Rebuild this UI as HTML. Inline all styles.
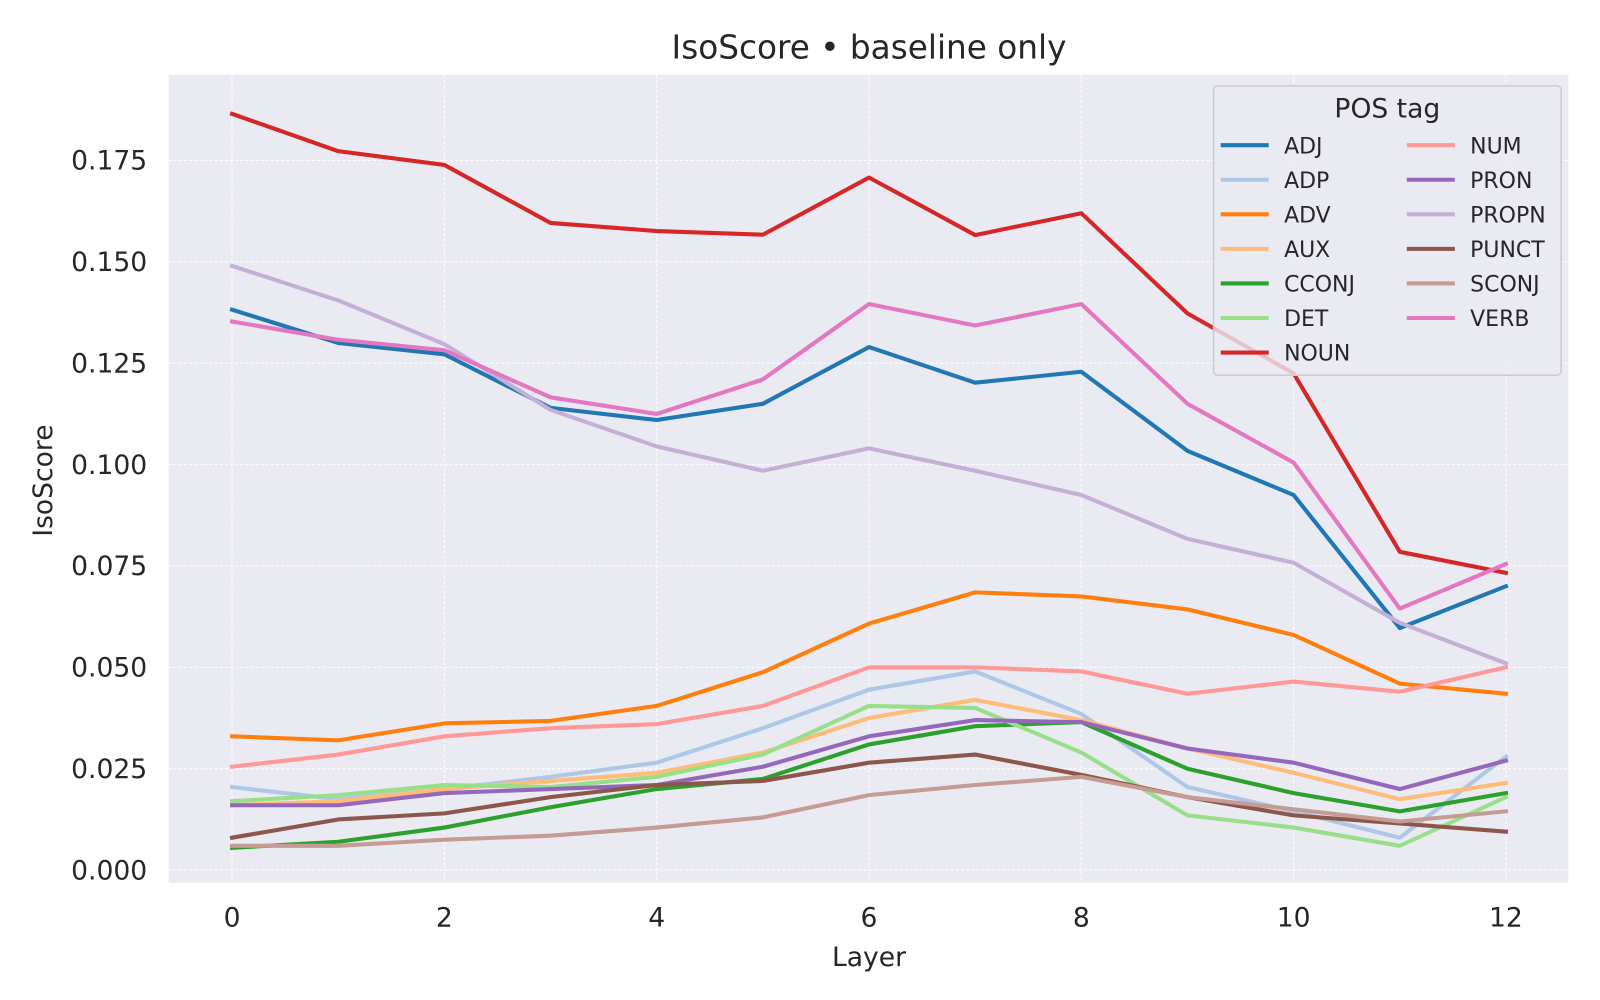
<!DOCTYPE html>
<html><head><meta charset="utf-8"><style>
html,body{margin:0;padding:0;background:#fff;}
svg{display:block;font-family:"DejaVu Sans","Liberation Sans",sans-serif;}
</style></head><body>
<svg id="chart" width="1600" height="1000" viewBox="0 0 1565 978" preserveAspectRatio="none" xmlns="http://www.w3.org/2000/svg">
<rect x="0" y="0" width="1565" height="978" fill="#fff"/>
<rect x="165" y="73" width="1369" height="790" fill="#eaeaf2"/>
<g id="grid"></g>
<g id="lines"></g>
<g id="axes"></g>
<text x="850" y="57" font-size="32" text-anchor="middle" fill="#262626">IsoScore • baseline only</text>
<text x="850" y="945" font-size="26" text-anchor="middle" fill="#262626">Layer</text>
<text transform="translate(51,470) rotate(-90)" font-size="26" text-anchor="middle" fill="#262626">IsoScore</text>
<g id="legend"></g>
</svg>
<script>
const layers=[0,1,2,3,4,5,6,7,8,9,10,11,12];
const xTicks=[0,2,4,6,8,10,12];
const yTicks=[0,0.025,0.05,0.075,0.1,0.125,0.15,0.175];
const yTickLabels=["0.000","0.025","0.050","0.075","0.100","0.125","0.150","0.175"];
const seriesNames=["ADJ","ADP","ADV","AUX","CCONJ","DET","NOUN","NUM","PRON","PROPN","PUNCT","SCONJ","VERB"];
const ADJ=[0.1382,0.1300,0.1272,0.1140,0.1110,0.1150,0.1290,0.1202,0.1229,0.1034,0.0925,0.0597,0.0700];
const ADP=[0.0205,0.0175,0.020,0.023,0.0265,0.035,0.0445,0.049,0.0385,0.0205,0.0145,0.008,0.028];
const ADV=[0.033,0.032,0.0362,0.0368,0.0405,0.0488,0.0608,0.0685,0.0675,0.0643,0.058,0.046,0.0435];
const AUX=[0.016,0.017,0.020,0.022,0.024,0.029,0.0375,0.042,0.037,0.030,0.024,0.0175,0.0215];
const CCONJ=[0.0055,0.007,0.0105,0.0155,0.020,0.0225,0.031,0.0355,0.0365,0.025,0.019,0.0145,0.019];
const DET=[0.017,0.0185,0.021,0.0205,0.023,0.0285,0.0405,0.040,0.029,0.0135,0.0105,0.006,0.018];
const NOUN=[0.1865,0.1773,0.1739,0.1596,0.1576,0.1567,0.1708,0.1566,0.1620,0.1373,0.1225,0.0785,0.0733];
const NUM=[0.0255,0.0285,0.033,0.035,0.036,0.0405,0.050,0.050,0.049,0.0435,0.0465,0.044,0.050];
const PRON=[0.016,0.016,0.019,0.020,0.021,0.0255,0.033,0.037,0.0365,0.030,0.0265,0.020,0.027];
const PROPN=[0.1490,0.1405,0.1297,0.1135,0.1045,0.0985,0.1040,0.0985,0.0925,0.0817,0.0758,0.0610,0.0510];
const PUNCT=[0.008,0.0125,0.014,0.018,0.021,0.022,0.0265,0.0285,0.0235,0.018,0.0135,0.0115,0.0095];
const SCONJ=[0.006,0.006,0.0075,0.0085,0.0105,0.013,0.0185,0.021,0.023,0.018,0.015,0.012,0.0145];
const VERB=[0.1353,0.1308,0.1282,0.1166,0.1125,0.1210,0.1396,0.1343,0.1396,0.1150,0.1005,0.0645,0.0755];
const seriesValues=[ADJ,ADP,ADV,AUX,CCONJ,DET,NOUN,NUM,PRON,PROPN,PUNCT,SCONJ,VERB];
const colors=["#1f77b4","#aec7e8","#ff7f0e","#ffbb78","#2ca02c","#98df8a","#d62728","#ff9896","#9467bd","#c5b0d5","#8c564b","#c49c94","#e377c2"];
const NS="http://www.w3.org/2000/svg";
const xs=v=>227+v*(1473-227)/12;
const ys=v=>851-v*3966;
function mk(t,attrs,parent){const e=document.createElementNS(NS,t);for(const k in attrs)e.setAttribute(k,attrs[k]);parent.appendChild(e);return e;}
const grid=document.getElementById('grid'),axes=document.getElementById('axes'),lines=document.getElementById('lines'),legend=document.getElementById('legend');
xTicks.forEach(t=>{
  const l=mk('line',{x1:xs(t),x2:xs(t),y1:73,y2:863,stroke:'#fff','stroke-width':1,'stroke-dasharray':'3,2'},grid);
  
  
  const tx=mk('text',{x:xs(t),y:906,'font-size':26,'text-anchor':'middle',fill:'#262626'},axes);
  tx.textContent=t;
  
  
});
yTicks.forEach((t,i)=>{
  const l=mk('line',{x1:165,x2:1534,y1:ys(t),y2:ys(t),stroke:'#fff','stroke-width':1,'stroke-dasharray':'3,2'},grid);
  
  
  const tx=mk('text',{x:144,y:ys(t)+9,'font-size':26,'text-anchor':'end',fill:'#262626'},axes);
  tx.textContent=yTickLabels[i];
  
  
});
seriesNames.forEach((n,i)=>{
  const pts=seriesValues[i].map((v,j)=>xs(layers[j])+','+ys(v)).join(' ');
  const p=mk('polyline',{points:pts,fill:'none',stroke:colors[i],'stroke-width':4,'stroke-linejoin':'round','stroke-linecap':'square'},lines);
  
  
});
mk('rect',{x:1187,y:84,width:340,height:283,rx:4,fill:'#eaeaf2',stroke:'#cccccc','stroke-width':1.5,'fill-opacity':0.8},legend);
const lt=mk('text',{x:1357,y:115,'font-size':26,'text-anchor':'middle',fill:'#262626'},legend);
lt.textContent='POS tag';


seriesNames.forEach((n,i)=>{
  const col=i<7?0:1,row=i<7?i:i-7;
  const x0=col?1376:1194,y0=142+row*33.8;
  const g=mk('g',{},legend);
  
  
  mk('line',{x1:x0,x2:x0+47,y1:y0,y2:y0,stroke:colors[i],'stroke-width':4},g);
  const t=mk('text',{x:x0+62,y:y0+8,'font-size':21.5,fill:'#262626'},g);
  t.textContent=n;
});
</script>
</body></html>
